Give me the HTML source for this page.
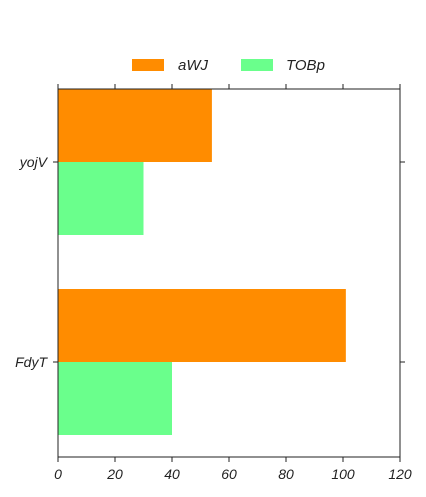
<!DOCTYPE html>
<html><head><meta charset="utf-8"><style>body{margin:0;background:#fff}svg{display:block;font-family:"Liberation Sans",sans-serif;font-style:italic}</style></head>
<body>
<svg width="426" height="497" id="c">
<g id="marks"></g>
<rect x="58" y="89" width="342" height="368" fill="none" stroke="#222" stroke-width="1"/>
<g id="ticks" stroke="#222"></g>
<g id="labels" fill="#222" font-size="14"></g>
<g>
<rect x="132" y="59" width="32" height="12" fill="#ff8c00"/>
<text x="178" y="70" font-size="15" fill="#222">aWJ</text>
<rect x="241" y="59" width="32" height="12" fill="#6aff8c"/>
<text x="286" y="70" font-size="15" fill="#222">TOBp</text>
</g>
</svg>
<script>
const categories = ["yojV", "FdyT"];
const awj = [54, 101];
const tobp = [30, 40];
const xTicks = [0, 20, 40, 60, 80, 100, 120];
const NS = "http://www.w3.org/2000/svg";
const x0 = 58, x1 = 400, y0 = 89, y1 = 457, xmax = 120;
const sx = v => x0 + v / xmax * (x1 - x0);
// category axis: range -0.365 .. 1.475 mapped to y0..y1
const cmin = -0.365, cmax = 1.475;
const cy = i => y0 + (i - cmin) / (cmax - cmin) * (y1 - y0);
const bh = 0.365 / (cmax - cmin) * (y1 - y0);
function mk(tag, attrs, parent) { const e = document.createElementNS(NS, tag); for (const k in attrs) e.setAttribute(k, attrs[k]); document.getElementById(parent).appendChild(e); return e; }
categories.forEach((c, i) => {
  const a = mk("rect", {x: x0, y: cy(i) - bh, width: sx(awj[i]) - x0, height: bh, fill: "#ff8c00"}, "marks");
  
  
  const b = mk("rect", {x: x0, y: cy(i), width: sx(tobp[i]) - x0, height: bh, fill: "#6aff8c"}, "marks");
  
  
  mk("line", {x1: x0 - 5, x2: x0, y1: cy(i), y2: cy(i)}, "ticks");
  mk("line", {x1: x1, x2: x1 + 5, y1: cy(i), y2: cy(i)}, "ticks");
  const t = mk("text", {x: x0 - 11, y: cy(i) + 5, "text-anchor": "end"}, "labels");
  t.textContent = c;
  
  
});
xTicks.forEach(v => {
  mk("line", {x1: sx(v), x2: sx(v), y1: y1, y2: y1 + 5}, "ticks");
  mk("line", {x1: sx(v), x2: sx(v), y1: y0 - 5, y2: y0}, "ticks");
  const t = mk("text", {x: sx(v), y: y1 + 22, "text-anchor": "middle"}, "labels");
  t.textContent = v;
  
  
});
</script>
</body></html>
